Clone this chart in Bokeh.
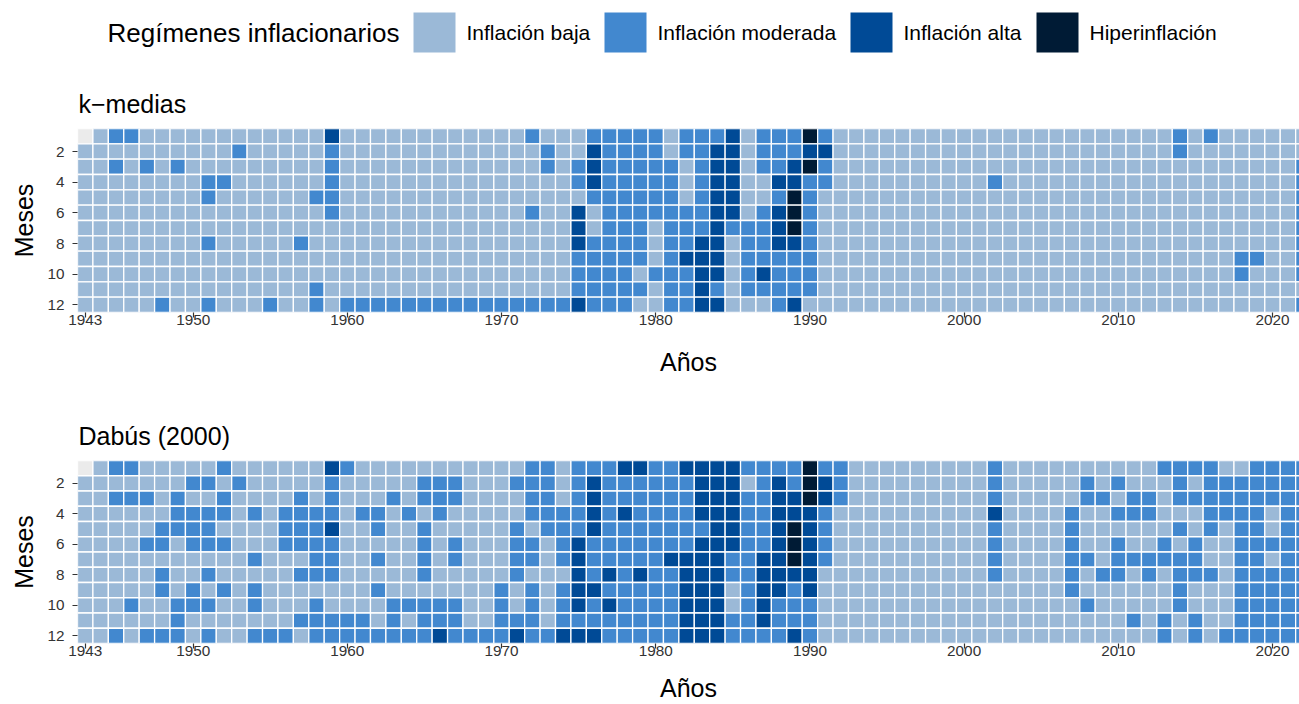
import pandas as pd
from bokeh.plotting import figure
from bokeh.models import ColumnDataSource, FixedTicker, Range1d
from bokeh.layouts import column
from bokeh.transform import factor_cmap
from bokeh.core.properties import value
from bokeh.embed import file_html
from bokeh.resources import INLINE

# ---------------- data ----------------
years = list(range(1943, 2023))
months = list(range(1, 13))
month_ticks = [2, 4, 6, 8, 10, 12]
year_ticks = [1943, 1950, 1960, 1970, 1980, 1990, 2000, 2010, 2020]

regimes = ["Inflación baja", "Inflación moderada", "Inflación alta", "Hiperinflación"]
regime_colors = ["#9BB9D7", "#4288CF", "#004A96", "#001B35"]
na_label = "NA"
na_color = "#EBEBEB"
code_names = {"B": regimes[0], "M": regimes[1], "A": regimes[2], "H": regimes[3], "-": na_label}

# one string per year (1943..2022), one letter per month (Jan..Dec)
kmedias = [
    "-BBBBBBBBBBB", "BBBBBBBBBBBB", "MBMBBBBBBBBB", "MBBBBBBBBBBB", "BBMBBBBBBBBB",  # 1943-47
    "BBBBBBBBBBBM", "BBMBBBBBBBBB", "BBBBBBBBBBBB", "BBBMMBBMBBBM", "BBBMBBBBBBBB",  # 1948-52
    "BMBBBBBBBBBB", "BBBBBBBBBBBB", "BBBBBBBBBBBM", "BBBBBBBBBBBB", "BBBBBBBMBBBB",  # 1953-57
    "BBBBMBBBBBMM", "AMMMMMBBBBBB", "BBBBBBBBBBBM", "BBBBBBBBBBBM", "BBBBBBBBBBBM",  # 1958-62
    "BBBBBBBBBBBM", "BBBBBBBBBBBM", "BBBBBBBBBBBM", "BBBBBBBBBBBM", "BBBBBBBBBBBM",  # 1963-67
    "BBBBBBBBBBBM", "BBBBBBBBBBBM", "BBBBBBBBBBBM", "BBBBBBBBBBBM", "MBBBBMBBBBBM",  # 1968-72
    "BMMBBBBBBBBM", "BBBBBBBBBBBM", "BBMMBAAAMMMA", "MAAAMBBMMMMM", "MMMMMMMMMMMM",  # 1973-77
    "MMMMMMMMMMMM", "MMMMMMMMMBMB", "MMMMMMBBBMBB", "BBMMMMMMMMMM", "MMBBBMMMAMMM",  # 1978-82
    "MMMMMMMAAAAA", "MAAAAAAAAAMA", "AAAAAAMBBBBB", "BBBBBBMMMMMB", "MMMBBMMMMAMB",  # 1983-87
    "MMMAMAAAMMMM", "MMAAHHHAMMMA", "HAHMMMMMMMMB", "MAMMBBBBBBBB", "BBBBBBBBBBBB",  # 1988-92
    "BBBBBBBBBBBB", "BBBBBBBBBBBB", "BBBBBBBBBBBB", "BBBBBBBBBBBB", "BBBBBBBBBBBB",  # 1993-97
    "BBBBBBBBBBBB", "BBBBBBBBBBBB", "BBBBBBBBBBBB", "BBBBBBBBBBBB", "BBBMBBBBBBBB",  # 1998-02
    "BBBBBBBBBBBB", "BBBBBBBBBBBB", "BBBBBBBBBBBB", "BBBBBBBBBBBB", "BBBBBBBBBBBB",  # 2003-07
    "BBBBBBBBBBBB", "BBBBBBBBBBBB", "BBBBBBBBBBBB", "BBBBBBBBBBBB", "BBBBBBBBBBBB",  # 2008-12
    "BBBBBBBBBBBB", "MMBBBBBBBBBB", "BBBBBBBBBBBB", "MBBBBBBBBBBB", "BBBBBBBBBBBB",  # 2013-17
    "BBBBBBBBMMBB", "BBBBBBBBMBBB", "BBBBBBBBBBBB", "BBBBBBBBBBBB", "BBMMMMMMMMBM",  # 2018-22
]

dabus = [
    "-BBBBBBBBBBB", "BBBBBBBBBBBB", "MBMBBBBBBBBM", "MBMBBBBBBMBB", "BBMBBMBBBBBM",  # 1943-47
    "BBBBMMBMMBBM", "BBMMMBBBBMMM", "BMBMMMBBMMBB", "BMBMMMBMBMBM", "MBMMBMBBMBBB",  # 1948-52
    "BMBBBBBBBBBB", "BBBMBBMBMMBM", "BBBBBBBBBBBM", "BBBMMMBBBBBM", "BBMMMMBMBBMB",  # 1953-57
    "BBBMMMMMBMMM", "AMMMAMMMBBMM", "MBBBBBBBBBMM", "BBBMBBBBBBMM", "BBBMMBMBMBBM",  # 1958-62
    "BBMBBBBBBMMM", "BBBMBBBBBMBM", "BMMBMMMMBMMM", "BMMMBBBBBMMA", "BMMBBMMBBMMM",  # 1963-67
    "BBBBBBBBBBBM", "BBBBBBBBBBBM", "BBBBBBBBMMMM", "BMBBMMMMBBMA", "MMMMBMMBMMMM",  # 1968-72
    "MMMMMBBBBBBM", "BBBMMMMBMMMA", "MMMMMAAAAAMA", "MAAAAMMMAMMA", "MMMMMMMAMAMM",  # 1973-77
    "AMMAMMMMMMMM", "AMMMMMMAMMMM", "MMMMMMMMMMMM", "MMMMMMAMMMMM", "AMMMMMAAAAAA",  # 1978-82
    "AAAAMAAAAAAA", "AAAAAAAAAAAA", "AAAAAAMMBBMM", "MBMMMMMMMMMM", "MMMMMMAAAAAM",  # 1983-87
    "MAAAAAAAAMMM", "MMAAHHHAMMMA", "HHHAAAAAAMMM", "MAAMMMMBBBBB", "MMMBBBBBBBBB",  # 1988-92
    "BBBBBBBBBBBB", "BBBBBBBBBBBB", "BBBBBBBBBBBB", "BBBBBBBBBBBB", "BBBBBBBBBBBB",  # 1993-97
    "BBBBBBBBBBBB", "BBBBBBBBBBBB", "BBBBBBBBBBBB", "BBBBBBBBBBBB", "MMMAMMMMBBBB",  # 1998-02
    "BBBBBBBBBBBB", "BBBBBBBBBBBB", "BBBBBBBBBBBB", "BBBBBBBBBBBB", "BBBMMMMMMBBB",  # 2003-07
    "BMMBBBMBBMBB", "BBMBBBBMBBBB", "BMBMBMMMBBBB", "BBMMBBMBBBMB", "BBMMBBMMBBBB",  # 2008-12
    "MBBBBMMBBBMM", "MMMBMBMMMMBB", "MBMBBMMMBBMM", "MMMMMBBMBBBB", "BMMMBBBBBBBM",  # 2013-17
    "BMMMMMMMMMMM", "MMMMMMMMMMMM", "MMMBBMBMMMMM", "MMMMMMMMMMMM", "MMMMMMMMMMMM",  # 2018-22
]

FONT = "Liberation Sans"
W = 1299
LEFT = 77


def to_frame(codes_by_year):
    rows = []
    for yr, s in zip(years, codes_by_year):
        for m, c in zip(months, s):
            rows.append({"year": yr, "month": m, "regimen": code_names[c]})
    return pd.DataFrame(rows)


cmap = factor_cmap("regimen", palette=regime_colors + [na_color],
                   factors=regimes + [na_label])


def panel(title, codes_by_year, height, top, bottom, axis_label_standoff):
    p = figure(width=W, height=height, output_backend="svg", toolbar_location=None,
               x_range=Range1d(1942.5, 2021.75), y_range=Range1d(12.5, 0.5),
               min_border_left=LEFT, min_border_right=0, min_border_top=top,
               min_border_bottom=bottom, title=title)
    src = ColumnDataSource(to_frame(codes_by_year))
    p.rect(x="year", y="month", width=1, height=1, source=src,
           fill_color=cmap, line_color="white", line_width=1.3)
    p.xgrid.visible = False
    p.ygrid.visible = False
    p.outline_line_color = None
    p.background_fill_color = "white"
    p.xaxis.ticker = FixedTicker(ticks=year_ticks)
    p.yaxis.ticker = FixedTicker(ticks=month_ticks)
    p.xaxis.axis_label = "Años"
    p.yaxis.axis_label = "Meses"
    for ax in (p.xaxis, p.yaxis):
        ax.axis_line_color = None
        ax.minor_tick_line_color = None
        ax.major_tick_in = 0
        ax.major_tick_out = 5
        ax.major_tick_line_color = "#333333"
        ax.major_tick_line_width = 1.2
        ax.major_label_text_font = FONT
        ax.major_label_text_font_size = "15.3px"
        ax.major_label_text_color = "#333333"
        ax.axis_label_text_font = FONT
        ax.axis_label_text_font_size = "25px"
        ax.axis_label_text_font_style = "normal"
        ax.axis_label_text_color = "black"
    p.xaxis.major_label_standoff = -3
    p.yaxis.major_label_standoff = 8
    p.xaxis.axis_label_standoff = axis_label_standoff
    p.yaxis.axis_label_standoff = 6
    p.title.text_font = FONT
    p.title.text_font_size = "25px"
    p.title.text_font_style = "normal"
    p.title.text_color = "black"
    p.title.offset = 1
    p.title.standoff = 22
    return p


# ---------------- legend strip (drawn in pixel coordinates) ----------------
# the column layout aligns this strip's frame with the panels' frames (x from LEFT)
LEG_H = 62
leg = figure(width=W, height=LEG_H, output_backend="svg", toolbar_location=None,
             x_range=Range1d(LEFT, W), y_range=Range1d(LEG_H, 0),
             x_axis_type=None, y_axis_type=None, min_border=0,
             min_border_left=LEFT)
leg.outline_line_color = None
leg.xgrid.visible = False
leg.ygrid.visible = False
key_left = [413, 604, 850, 1036]
key_w, key_h, key_cy, label_gap = 42, 40, 32, 11
leg.rect(x=[k + key_w / 2 for k in key_left], y=[key_cy] * 4, width=key_w,
         height=key_h, fill_color=regime_colors, line_color=None)
leg.text(x=[k + key_w + label_gap for k in key_left], y=[key_cy] * 4, text=regimes,
         text_font=value(FONT), text_font_size="21px", text_baseline="middle",
         text_align="left", text_color="black")
leg.text(x=[107], y=[key_cy], text=["Regímenes inflacionarios"],
         text_font=value(FONT), text_font_size="26px", text_baseline="middle",
         text_align="left", text_color="black")

# panel 1: frame 128-312 ; panel 2: frame 460-644 ; total height 704
p1 = panel("k−medias", kmedias, 332, 66, 82, 20)
p2 = panel("Dabús (2000)", dabus, 310, 66, 60, 15)

layout = column(leg, p1, p2, spacing=0)
open("out.html", "w").write(file_html(layout, INLINE))
